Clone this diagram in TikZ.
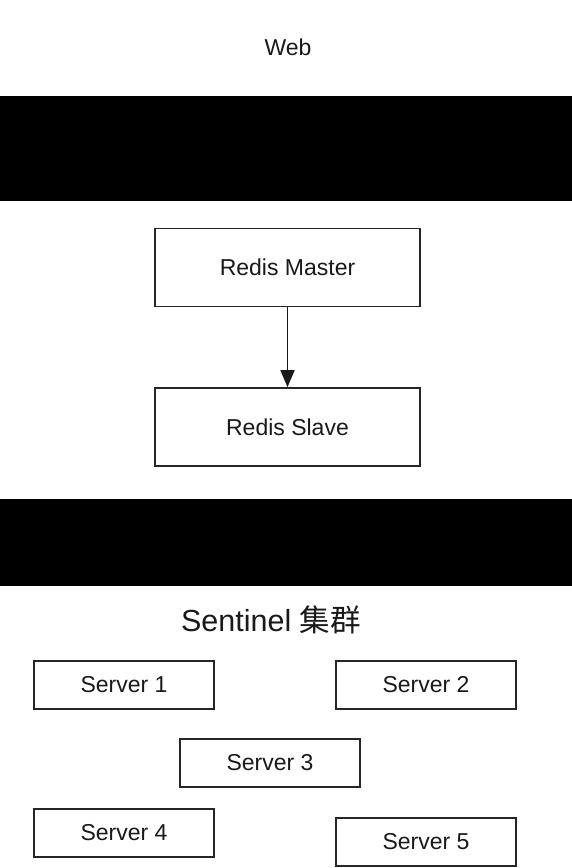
\documentclass[tikz,border=0pt]{standalone}
\usepackage{fontspec}
\setmainfont{Liberation Sans}
\newfontfamily\cjk{Noto Sans CJK SC}
\usetikzlibrary{arrows.meta}
\begin{document}
\begin{tikzpicture}[x=1pt,y=-1pt,
  txt/.style={text=black!90, font=\fontsize{23}{27}\selectfont},
  redisbox/.style={txt, draw=black!85, line width=1.7pt, fill=white, inner sep=0pt,
    minimum width=265pt, minimum height=78pt},
  serverbox/.style={txt, draw=black!85, line width=1.7pt, fill=white, inner sep=0pt,
    minimum width=180pt, minimum height=48pt},
  band/.style={fill=black, draw=none},
  conn/.style={draw=black!90, line width=1.7pt, -{Triangle[length=17pt,width=14pt]}},
]
\useasboundingbox[fill=white] (0,0) rectangle (572,868);
\fill[band] (0,96) rectangle (572,201);
\fill[band] (0,499) rectangle (572,586);
\node[txt] (web) at (288,47) {Web};
\node[redisbox] (master) at (287.5,267.5) {Redis Master};
\node[redisbox] (slave) at (287.5,427) {Redis Slave};
\draw[conn] (master) -- (slave);
\node[text=black!90, font=\fontsize{30.5}{36}\selectfont] (sentinel) at (271,620) {Sentinel {\cjk 集群}};
\node[serverbox] (s1) at (124,685) {Server 1};
\node[serverbox] (s2) at (426,685) {Server 2};
\node[serverbox] (s3) at (270,763) {Server 3};
\node[serverbox] (s4) at (124,833) {Server 4};
\node[serverbox] (s5) at (426,842) {Server 5};
\end{tikzpicture}
\end{document}
